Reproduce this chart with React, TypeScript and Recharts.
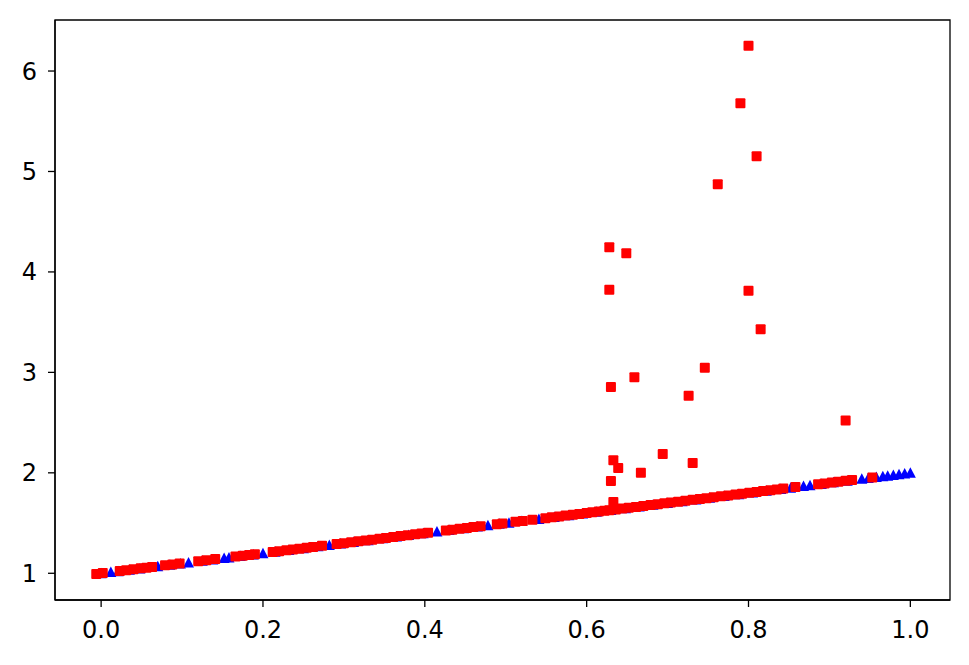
import { ScatterChart, Scatter, XAxis, YAxis, ReferenceArea } from "recharts";

// blue triangles (lie on the line y = 1 + x)
const blueX = [
  0.0, 0.012, 0.021, 0.035, 0.048, 0.07, 0.085, 0.098, 0.108, 0.125, 0.138, 0.152, 0.158,
  0.172, 0.188, 0.2, 0.215, 0.232, 0.25, 0.268, 0.282, 0.296, 0.312, 0.33, 0.348, 0.365,
  0.38, 0.398, 0.415, 0.43, 0.448, 0.465, 0.478, 0.492, 0.504, 0.52, 0.541, 0.56, 0.578,
  0.595, 0.612, 0.63, 0.648, 0.665, 0.682, 0.7, 0.718, 0.735, 0.752, 0.77, 0.788, 0.805,
  0.822, 0.84, 0.852, 0.868, 0.876, 0.89, 0.905, 0.922, 0.94, 0.948, 0.958, 0.966, 0.972,
  0.979, 0.986, 0.993, 1.0,
];
const blueY = [
  1.0, 1.012, 1.021, 1.035, 1.048, 1.07, 1.085, 1.098, 1.108, 1.125, 1.138, 1.152, 1.158,
  1.172, 1.188, 1.2, 1.215, 1.232, 1.25, 1.268, 1.282, 1.296, 1.312, 1.33, 1.348, 1.365,
  1.38, 1.398, 1.415, 1.43, 1.448, 1.465, 1.478, 1.492, 1.504, 1.52, 1.541, 1.56, 1.578,
  1.595, 1.612, 1.63, 1.648, 1.665, 1.682, 1.7, 1.718, 1.735, 1.752, 1.77, 1.788, 1.805,
  1.822, 1.84, 1.852, 1.868, 1.876, 1.89, 1.905, 1.922, 1.94, 1.948, 1.958, 1.966, 1.972,
  1.979, 1.986, 1.993, 2.0,
];

// red squares along the line
const redX = [
  -0.006, 0.002, 0.023, 0.031, 0.04, 0.049, 0.056, 0.063, 0.079, 0.088, 0.097, 0.12, 0.13,
  0.141, 0.166, 0.175, 0.183, 0.19, 0.212, 0.22, 0.229, 0.237, 0.245, 0.254, 0.262, 0.273,
  0.291, 0.3, 0.309, 0.318, 0.327, 0.335, 0.344, 0.352, 0.361, 0.37, 0.379, 0.388, 0.396,
  0.404, 0.426, 0.434, 0.443, 0.452, 0.46, 0.469, 0.489, 0.496, 0.512, 0.521, 0.533, 0.549,
  0.557, 0.566, 0.574, 0.583, 0.591, 0.6, 0.607, 0.615, 0.622, 0.628, 0.636, 0.644, 0.652,
  0.661, 0.67, 0.679, 0.688, 0.696, 0.704, 0.713, 0.722, 0.731, 0.74, 0.748, 0.757, 0.766,
  0.775, 0.784, 0.792, 0.801, 0.81, 0.818, 0.827, 0.835, 0.843, 0.858, 0.886, 0.894, 0.903,
  0.911, 0.92, 0.928, 0.953,
];
const redY = [
  0.994, 1.002, 1.023, 1.031, 1.04, 1.049, 1.056, 1.063, 1.079, 1.088, 1.097, 1.12, 1.13,
  1.141, 1.166, 1.175, 1.183, 1.19, 1.212, 1.22, 1.229, 1.237, 1.245, 1.254, 1.262, 1.273,
  1.291, 1.3, 1.309, 1.318, 1.327, 1.335, 1.344, 1.352, 1.361, 1.37, 1.379, 1.388, 1.396,
  1.404, 1.426, 1.434, 1.443, 1.452, 1.46, 1.469, 1.489, 1.496, 1.512, 1.521, 1.533, 1.549,
  1.557, 1.566, 1.574, 1.583, 1.591, 1.6, 1.607, 1.615, 1.622, 1.628, 1.636, 1.644, 1.652,
  1.661, 1.67, 1.679, 1.688, 1.696, 1.704, 1.713, 1.722, 1.731, 1.74, 1.748, 1.757, 1.766,
  1.775, 1.784, 1.792, 1.801, 1.81, 1.818, 1.827, 1.835, 1.843, 1.858, 1.886, 1.894, 1.903,
  1.911, 1.92, 1.928, 1.953,
];

// red outliers above the line
const outX = [
  0.8, 0.79, 0.81, 0.762, 0.628, 0.649, 0.628, 0.8, 0.815, 0.746, 0.659, 0.63, 0.726, 0.92,
  0.694, 0.633, 0.639, 0.731, 0.667, 0.63, 0.633,
];
const outY = [
  6.252, 5.678, 5.151, 4.872, 4.245, 4.185, 3.823, 3.813, 3.429, 3.047, 2.951, 2.855, 2.768,
  2.52, 2.188, 2.125, 2.048, 2.098, 2.001, 1.919, 1.71,
];

const xTicks = [0, 0.2, 0.4, 0.6, 0.8, 1.0];
const yTicks = [1, 2, 3, 4, 5, 6];

const blue = blueX.map((x, i) => ({ x, y: blueY[i] }));
const red = redX.map((x, i) => ({ x, y: redY[i] }))
  .concat(outX.map((x, i) => ({ x, y: outY[i] })));

const X_DOMAIN: [number, number] = [-0.057, 1.049];
const Y_DOMAIN: [number, number] = [0.734, 6.508];

const tickStyle = { fontSize: 24, fill: "#000", fontFamily: "DejaVu Sans" };

// matplotlib-like markers, 10px
const Square = (p: any) => (
  <rect x={p.cx - 5} y={p.cy - 5} width={10} height={10} rx={1} fill="#ff0000" />
);
const Triangle = (p: any) => (
  <polygon
    points={`${p.cx},${p.cy - 5.5} ${p.cx - 5.5},${p.cy + 5} ${p.cx + 5.5},${p.cy + 5}`}
    fill="#0000ff"
  />
);

export default function App() {
  return (
    <div style={{ position: "absolute", left: 0, top: 0, background: "#fff" }}>
      <ScatterChart width={969} height={665} margin={{ top: 20, right: 19, bottom: 0, left: 0 }}>
        <XAxis
          type="number" dataKey="x" domain={X_DOMAIN} ticks={xTicks} allowDataOverflow
          tickFormatter={v => v.toFixed(1)} tick={tickStyle} height={65}
          tickSize={7} tickMargin={14} stroke="#000" strokeWidth={1.3}
        />
        <YAxis
          type="number" dataKey="y" domain={Y_DOMAIN} ticks={yTicks} allowDataOverflow
          tick={tickStyle} width={55} tickSize={7} tickMargin={11}
          stroke="#000" strokeWidth={1.3}
        />
        <ReferenceArea
          x1={X_DOMAIN[0]} x2={X_DOMAIN[1]} y1={Y_DOMAIN[0]} y2={Y_DOMAIN[1]}
          fill="none" stroke="#000" strokeWidth={1.3} fillOpacity={0}
        />
        <Scatter data={blue} shape={Triangle} fill="#0000ff" isAnimationActive={false} legendType="none" />
        <Scatter data={red} shape={Square} fill="#ff0000" isAnimationActive={false} legendType="none" />
      </ScatterChart>
    </div>
  );
}
